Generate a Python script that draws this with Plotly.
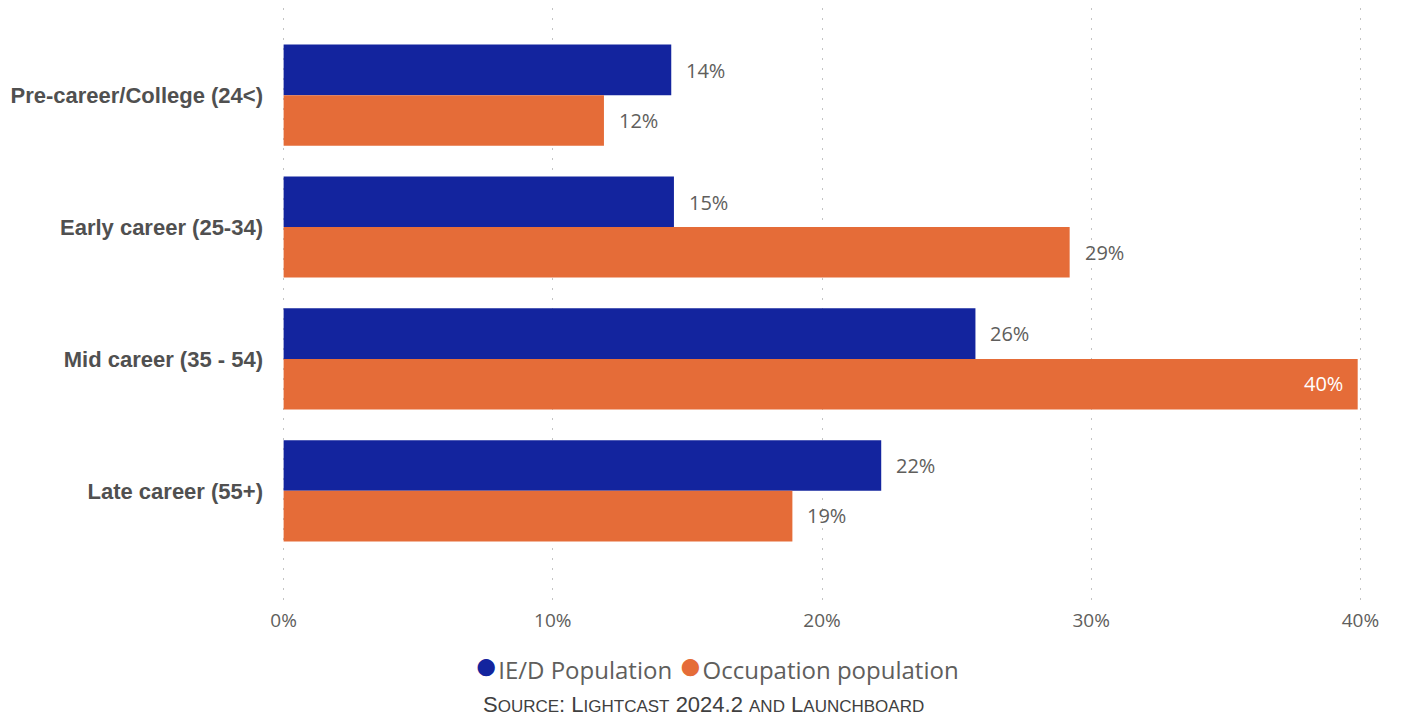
import plotly.graph_objects as go

categories = ["Pre-career/College (24<)", "Early career (25-34)", "Mid career (35 - 54)", "Late career (55+)"]
ied_values = [14.4, 14.5, 25.7, 22.2]
occ_values = [11.9, 29.2, 39.9, 18.9]
series_names = ["IE/D Population", "Occupation population"]
x_ticks = [0, 10, 20, 30, 40]
x_tick_labels = ["0%", "10%", "20%", "30%", "40%"]

BLUE = "#13249E"
ORANGE = "#E56C38"
FONT = "Segoe UI, Open Sans, Noto Sans, sans-serif"
ARIAL = "Arial, Liberation Sans, sans-serif"

def lab(v):
    return f"{int(v + 0.5)}%"

fig = go.Figure()
fig.add_trace(go.Bar(y=categories, x=ied_values, orientation="h", name=series_names[0],
                     marker=dict(color=BLUE, line=dict(width=0)), showlegend=False, hoverinfo="x+y"))
fig.add_trace(go.Bar(y=categories, x=occ_values, orientation="h", name=series_names[1],
                     marker=dict(color=ORANGE, line=dict(width=0)), showlegend=False, hoverinfo="x+y"))

xmax = max(x_ticks)
annotations = []
for cat, v in zip(categories, ied_values):
    annotations.append(dict(x=v, y=cat, xref="x", yref="y", text=lab(v), showarrow=False,
                            xanchor="left", yanchor="middle", xshift=13, yshift=25,
                            font=dict(family=FONT, size=20, color="#605E5C")))
for cat, v in zip(categories, occ_values):
    inside = v >= xmax * 0.9
    annotations.append(dict(x=v, y=cat, xref="x", yref="y", text=lab(v), showarrow=False,
                            xanchor="right" if inside else "left", yanchor="middle",
                            xshift=-13 if inside else 13, yshift=-25,
                            font=dict(family=FONT, size=20, color="#FFFFFF" if inside else "#605E5C")))

annotations.append(dict(xref="paper", yref="paper", x=0.402, y=-0.108, xanchor="center", yanchor="middle",
                        showarrow=False,
                        text=f"<span style='color:{BLUE};font-size:40px'>●</span>{series_names[0]} "
                             f"<span style='color:{ORANGE};font-size:40px'>●</span>{series_names[1]}",
                        font=dict(family=FONT, size=24, color="#605E5C")))
sm = "font-size:17px"
annotations.append(dict(xref="paper", yref="paper", x=0.390, y=-0.177, xanchor="center", yanchor="middle",
                        showarrow=False,
                        text=f"S<span style='{sm}'>OURCE</span>: L<span style='{sm}'>IGHTCAST</span> 2024.2 "
                             f"<span style='{sm}'>AND</span> L<span style='{sm}'>AUNCHBOARD</span>",
                        font=dict(family=ARIAL, size=22, color="#404040")))

fig.update_layout(
    width=1401, height=719,
    margin=dict(l=282, r=39, t=8, b=119),
    paper_bgcolor="white", plot_bgcolor="white",
    barmode="group", bargap=0.233, bargroupgap=0,
    showlegend=False,
    annotations=annotations,
    xaxis=dict(range=[-0.06, xmax + 0.06], tickvals=x_ticks, ticktext=x_tick_labels,
               showgrid=True, gridcolor="#C4C4C4", griddash="2px,8px", gridwidth=1,
               zeroline=False, showline=False, ticks="", ticklabelstandoff=7,
               tickfont=dict(family=FONT, size=19, color="#605E5C")),
    yaxis=dict(type="category", categoryorder="array", categoryarray=categories,
               range=[3.828, -0.661], showgrid=False, zeroline=False, showline=False, ticks="",
               ticklabelstandoff=18,
               tickfont=dict(family=ARIAL, size=22, color="#505050", weight="bold")),
)

fig.write_html("out.html", config={"displayModeBar": False},
               post_script="document.body.style.margin='0px';")
